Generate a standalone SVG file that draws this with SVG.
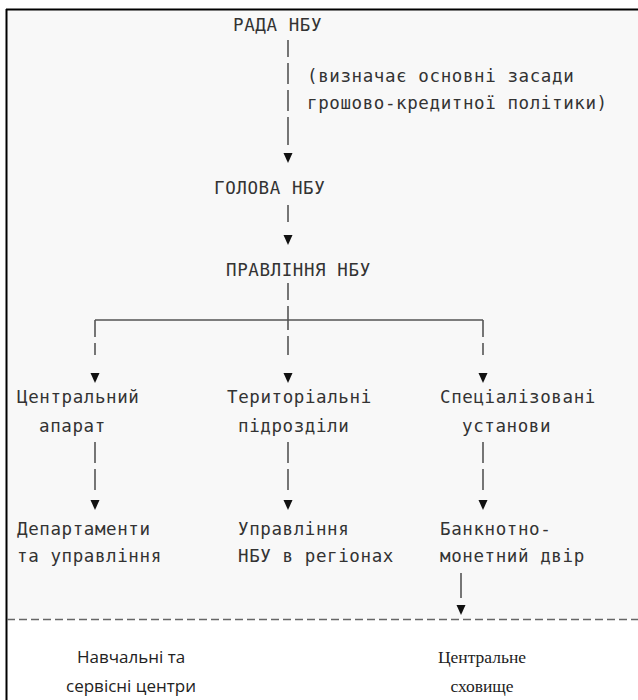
<svg xmlns="http://www.w3.org/2000/svg" width="638" height="700" viewBox="0 0 638 700">
<style>
.mono{font-family:"DejaVu Sans Mono","Liberation Mono",monospace;font-size:17.5px;letter-spacing:0.6px;fill:#333}
.bar{stroke:#555;stroke-width:1.6;fill:none}
.hl{stroke:#555;stroke-width:1.4;fill:none}
.arr{fill:#111}
.sans{font-family:"Open Sans","Liberation Sans",sans-serif;font-size:17px;fill:#222;text-anchor:middle}
.serif{font-family:"Liberation Serif","DejaVu Serif",serif;font-size:17.5px;fill:#222;text-anchor:middle}
</style>
<rect x="0" y="0" width="638" height="700" fill="#fff"/>
<rect x="7" y="10" width="631" height="609" fill="#f8f8f8"/>
<line x1="6" y1="9.5" x2="638" y2="9.5" stroke="#000" stroke-width="2"/>
<line x1="6.5" y1="9" x2="6.5" y2="700" stroke="#000" stroke-width="2"/>

<g id="connectors">
  <path class="bar" d="M288 40V57M288 63V84M288 90V111M288 117V145"/>
  <polygon class="arr" points="283.5,153 292.5,153 288,163"/>
  <path class="bar" d="M288 205V222"/>
  <polygon class="arr" points="283.5,235 292.5,235 288,245"/>
  <path class="bar" d="M288 283V300M288 306V330M288 336V355"/>
  <path class="hl" d="M95 320H483"/>
  <path class="bar" d="M95 320V337M95 343V355M483 320V337M483 343V355"/>
  <polygon class="arr" points="90.5,373 99.5,373 95,383"/>
  <polygon class="arr" points="283.5,373 292.5,373 288,383"/>
  <polygon class="arr" points="478.5,373 487.5,373 483,383"/>
  <path class="bar" d="M95 442V463M95 469V490M288 442V463M288 469V490M483 442V463M483 469V490"/>
  <polygon class="arr" points="90.5,500 99.5,500 95,510"/>
  <polygon class="arr" points="283.5,500 292.5,500 288,510"/>
  <polygon class="arr" points="478.5,500 487.5,500 483,510"/>
  <path class="bar" d="M461 573V598"/>
  <polygon class="arr" points="456.5,605 465.5,605 461,615"/>
  <line x1="7" y1="619.5" x2="638" y2="619.5" stroke="#666" stroke-width="1.4" stroke-dasharray="8,4"/>
</g>

<g id="rada"><text class="mono" x="233" y="31">РАДА НБУ</text></g>
<g id="note">
  <text class="mono" x="307" y="82">(визначає основні засади</text>
  <text class="mono" x="307" y="109">грошово-кредитної політики)</text>
</g>
<g id="holova"><text class="mono" x="214" y="194">ГОЛОВА НБУ</text></g>
<g id="pravlinnia"><text class="mono" x="226" y="276">ПРАВЛІННЯ НБУ</text></g>
<g id="central">
  <text class="mono" x="17" y="403">Центральний</text>
  <text class="mono" x="39" y="432">апарат</text>
</g>
<g id="terytorialni">
  <text class="mono" x="227" y="403">Територіальні</text>
  <text class="mono" x="238" y="432">підрозділи</text>
</g>
<g id="spetsializovani">
  <text class="mono" x="440" y="403">Спеціалізовані</text>
  <text class="mono" x="462" y="432">установи</text>
</g>
<g id="departamenty">
  <text class="mono" x="17" y="535">Департаменти</text>
  <text class="mono" x="17" y="562">та управління</text>
</g>
<g id="upravlinnia">
  <text class="mono" x="238" y="535">Управління</text>
  <text class="mono" x="238" y="562">НБУ в регіонах</text>
</g>
<g id="dvir">
  <text class="mono" x="440" y="535">Банкнотно-</text>
  <text class="mono" x="440" y="562">монетний двір</text>
</g>
<g id="navchalni">
  <text class="sans" x="131" y="663">Навчальні та</text>
  <text class="sans" x="131" y="692">сервісні центри</text>
</g>
<g id="skhovyshche">
  <text class="serif" x="482" y="663">Центральне</text>
  <text class="serif" x="482" y="692">сховище</text>
</g>
</svg>
